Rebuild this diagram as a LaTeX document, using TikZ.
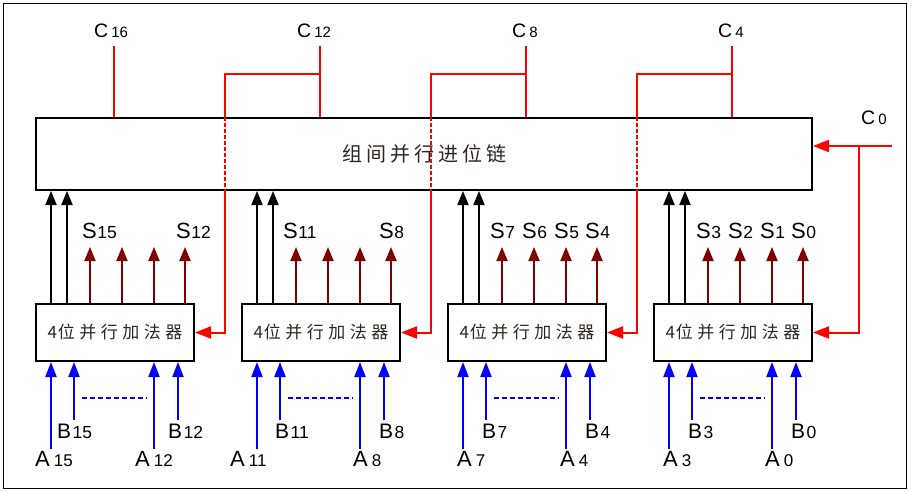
\documentclass[tikz,border=0pt]{standalone}
\usepackage{fontspec}
\setmainfont{Liberation Sans}
\newfontfamily\cjk{Noto Sans CJK SC}
\usetikzlibrary{arrows.meta,calc}
\definecolor{cred}{RGB}{255,0,0}
\definecolor{sred}{RGB}{128,0,0}
\definecolor{cblue}{RGB}{0,0,255}
\definecolor{ctext}{RGB}{45,38,30}
\newcommand{\lbl}[5]{{\fontsize{#1}{#1}\selectfont #4}\hspace{#3}{\fontsize{#2}{#2}\selectfont #5}}
\newcommand{\cg}{\hspace{4pt}}
\newcommand{\ag}{\hspace{4.5pt}}
\tikzset{
  frame/.style={draw=black, line width=1pt},
  box/.style={draw=black, line width=2pt, inner sep=0pt, anchor=north west},
  adder/.style={box, minimum width=158pt, minimum height=57pt,
    font={\cjk\fontsize{17}{17}\selectfont}, text=ctext},
  carry/.style={draw=cred, line width=2pt},
  carryarr/.style={carry, -{Triangle[length=16pt,width=12pt]}},
  cdash/.style={carry, dash pattern=on 4pt off 2pt},
  blkarr/.style={draw=black, line width=2pt, -{Triangle[length=14pt,width=11pt]}},
  sarr/.style={draw=sred, line width=2pt, -{Triangle[length=14pt,width=11pt]}},
  inarr/.style={draw=cblue, line width=2pt, -{Triangle[length=15pt,width=11pt]}},
  bdash/.style={draw=cblue, line width=1.5pt, dash pattern=on 5pt off 3pt},
  lab/.style={anchor=base west, inner sep=0pt, text=black},
}
\begin{document}
\begin{tikzpicture}[x=1pt,y=-1pt]
\useasboundingbox (0,0) rectangle (914,491);
\draw[frame] (3,3) rectangle (906,488);

% chain box
\node[box, minimum width=776pt, minimum height=72pt,
  font={\cjk\fontsize{20}{20}\selectfont}, text=ctext] (chain) at (35,117)
  {组\cg 间\cg 并\cg 行\cg 进\cg 位\cg 链};

% adders
\node[adder] (a1) at (35,303) {4\hspace{1pt}位\ag 并\ag 行\ag 加\ag 法\ag 器};
\node[adder] (a2) at (241,303) {4\hspace{1pt}位\ag 并\ag 行\ag 加\ag 法\ag 器};
\node[adder] (a3) at (447,303) {4\hspace{1pt}位\ag 并\ag 行\ag 加\ag 法\ag 器};
\node[adder] (a4) at (653,303) {4\hspace{1pt}位\ag 并\ag 行\ag 加\ag 法\ag 器};

% C labels
\node[lab] (C16) at (94,37) {\lbl{19.5}{15}{3pt}{C}{16}};
\node[lab] (C12) at (297,37) {\lbl{19.5}{15}{3pt}{C}{12}};
\node[lab] (C8) at (512,37) {\lbl{19.5}{15}{3pt}{C}{8}};
\node[lab] (C4) at (718,37) {\lbl{19.5}{15}{3pt}{C}{4}};
\node[lab] (C0) at (861,124) {\lbl{19.5}{15}{3pt}{C}{0}};

% carry lines
\coordinate (t16) at (114,46);
\coordinate (t12) at (320,46);
\coordinate (t8) at (526,46);
\coordinate (t4) at (732,46);
\coordinate (j12) at (320,74);
\coordinate (j8) at (526,74);
\coordinate (j4) at (732,74);
\coordinate (k12) at (225,74);
\coordinate (k8) at (431,74);
\coordinate (k4) at (637,74);
\draw[carry] (t16) -- (t16 |- chain.north);
\foreach \t/\j/\k/\a in {t12/j12/k12/a1, t8/j8/k8/a2, t4/j4/k4/a3}{
  \draw[carry] (\t) -- (\t |- chain.north);
  \draw[carry] (\j) -- (\k) -- (\k |- chain.north);
  \draw[cdash] (\k |- chain.north) -- (\k |- chain.south);
  \draw[carryarr] (\k |- chain.south) -- (\k |- \a.east) -- (\a.east);
}
\coordinate (c0s) at (892,146);
\coordinate (j0) at (859,146);
\draw[carryarr] (c0s) -- (chain.east |- c0s);
\draw[carryarr] (j0) -- (j0 |- a4.east) -- (a4.east);

% per-adder arrows
\foreach \a in {a1,a2,a3,a4}{
  \foreach \dx in {16,32}
    \draw[blkarr] ($(\a.north west)+(\dx,0)$) coordinate (p) -- (p |- chain.south);
  \foreach \dx in {55,87,119,150}
    \draw[sarr] ($(\a.north west)+(\dx,0)$) -- ($(\a.north west)+(\dx,-56)$);
  \foreach \dx in {16,119}
    \draw[inarr] ($(\a.south west)+(\dx,87)$) -- ($(\a.south west)+(\dx,0)$);
  \foreach \dx in {39,143}
    \draw[inarr] ($(\a.south west)+(\dx,58)$) -- ($(\a.south west)+(\dx,0)$);
  \draw[bdash] ($(\a.south west)+(47,36)$) -- ($(\a.south west)+(112,36)$);
}

% S labels
\node[lab] (S15) at (82,238) {\lbl{22}{17.5}{0.5pt}{S}{15}};
\node[lab] (S12) at (176,238) {\lbl{22}{17.5}{0.5pt}{S}{12}};
\node[lab] (S11) at (283,238) {\lbl{22}{17.5}{0.5pt}{S}{11}};
\node[lab] (S8) at (379,238) {\lbl{22}{17.5}{0.5pt}{S}{8}};
\node[lab] (S7) at (490,238) {\lbl{22}{17.5}{0.5pt}{S}{7}};
\node[lab] (S6) at (522,238) {\lbl{22}{17.5}{0.5pt}{S}{6}};
\node[lab] (S5) at (554,238) {\lbl{22}{17.5}{0.5pt}{S}{5}};
\node[lab] (S4) at (585,238) {\lbl{22}{17.5}{0.5pt}{S}{4}};
\node[lab] (S3) at (696,238) {\lbl{22}{17.5}{0.5pt}{S}{3}};
\node[lab] (S2) at (728,238) {\lbl{22}{17.5}{0.5pt}{S}{2}};
\node[lab] (S1) at (760,238) {\lbl{22}{17.5}{0.5pt}{S}{1}};
\node[lab] (S0) at (791,238) {\lbl{22}{17.5}{0.5pt}{S}{0}};

% B labels
\node[lab] (B15) at (57,438) {\lbl{21}{17.5}{1.5pt}{B}{15}};
\node[lab] (B12) at (168,438) {\lbl{21}{17.5}{1.5pt}{B}{12}};
\node[lab] (B11) at (275,438) {\lbl{21}{17.5}{1.5pt}{B}{11}};
\node[lab] (B8) at (379,438) {\lbl{21}{17.5}{1.5pt}{B}{8}};
\node[lab] (B7) at (482,438) {\lbl{21}{17.5}{1.5pt}{B}{7}};
\node[lab] (B4) at (585,438) {\lbl{21}{17.5}{1.5pt}{B}{4}};
\node[lab] (B3) at (688,438) {\lbl{21}{17.5}{1.5pt}{B}{3}};
\node[lab] (B0) at (791,438) {\lbl{21}{17.5}{1.5pt}{B}{0}};

% A labels
\node[lab] (A15) at (35,466) {\lbl{22}{17}{4pt}{A}{15}};
\node[lab] (A12) at (135,466) {\lbl{22}{17}{4pt}{A}{12}};
\node[lab] (A11) at (230,466) {\lbl{22}{17}{4pt}{A}{11}};
\node[lab] (A8) at (353,466) {\lbl{22}{17}{4pt}{A}{8}};
\node[lab] (A7) at (457,466) {\lbl{22}{17}{4pt}{A}{7}};
\node[lab] (A4) at (560,466) {\lbl{22}{17}{4pt}{A}{4}};
\node[lab] (A3) at (663,466) {\lbl{22}{17}{4pt}{A}{3}};
\node[lab] (A0) at (765,466) {\lbl{22}{17}{4pt}{A}{0}};
\end{tikzpicture}
\end{document}
